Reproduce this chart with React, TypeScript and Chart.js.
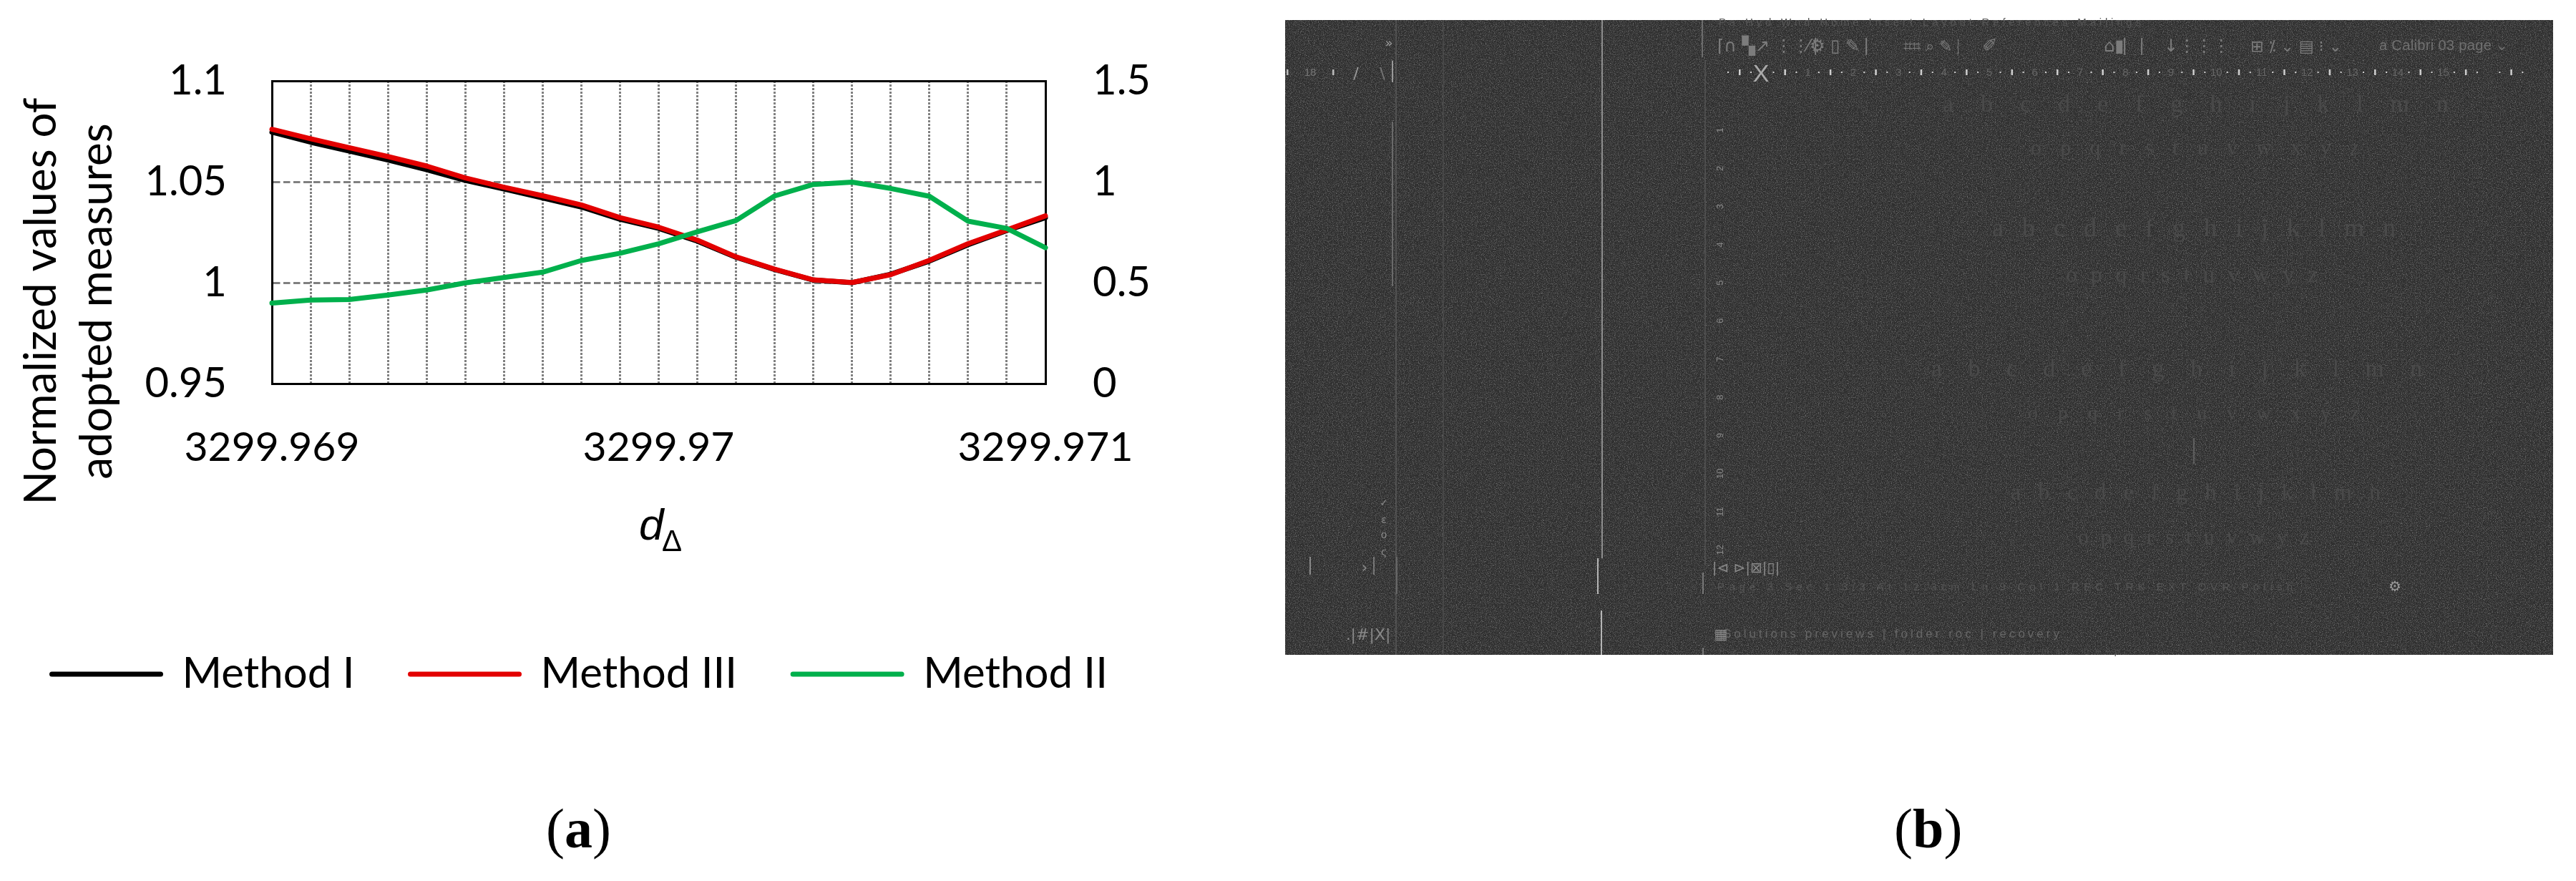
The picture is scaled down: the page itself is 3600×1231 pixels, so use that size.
import React, { useEffect, useRef } from "react";
import { Chart, registerables } from "chart.js";

Chart.register(...registerables);

const categories = [
  "3299.969", "3299.9691", "3299.9692", "3299.9693", "3299.9694", "3299.9695", "3299.9696",
  "3299.9697", "3299.9698", "3299.9699", "3299.97", "3299.9701", "3299.9702", "3299.9703",
  "3299.9704", "3299.9705", "3299.9706", "3299.9707", "3299.9708", "3299.9709", "3299.971",
];
const methodI = [
  1.0746, 1.0696, 1.0652, 1.0608, 1.056, 1.0507, 1.0464, 1.042, 1.0375, 1.0314, 1.0269,
  1.0206, 1.0126, 1.0065, 1.0013, 1.0, 1.0042, 1.0107, 1.0188, 1.0258, 1.0322,
];
const methodIII = [
  1.076, 1.0713, 1.0669, 1.0625, 1.0578, 1.0519, 1.0473, 1.0431, 1.0385, 1.0322, 1.0275,
  1.0211, 1.0128, 1.0067, 1.0014, 1.0001, 1.004, 1.0111, 1.0193, 1.0261, 1.0331,
];
const methodII = [
  0.3988, 0.414, 0.4165, 0.439, 0.4635, 0.499, 0.526, 0.552, 0.61, 0.646, 0.693,
  0.752, 0.808, 0.93, 0.987, 0.998, 0.967, 0.928, 0.805, 0.769, 0.673,
];
const yTitleLines = ["Normalized values of", "adopted measures"];
const letterRows = [
  { text: "a b c d e f g h i j k l m n", x: 2715, y: 156, w: 707, fs: 34 },
  { text: "o p q r s t u v w x y z", x: 2838, y: 216, w: 459, fs: 30 },
  { text: "a b c d e f g h i j k l m n", x: 2784, y: 330, w: 564, fs: 36 },
  { text: "o p q r s t u v w y z", x: 2887, y: 394, w: 352, fs: 32 },
  { text: "a b c d e f g h i j k l m n", x: 2699, y: 526, w: 686, fs: 34 },
  { text: "o p q r s t u v w x y z", x: 2834, y: 586, w: 463, fs: 28 },
  { text: "a b c d e f g h i j k l m n", x: 2810, y: 698, w: 517, fs: 32 },
  { text: "o p q r s t u v w y z", x: 2904, y: 760, w: 323, fs: 30 },
];
const panelLines = [
  { x: 1951, y1: 28, y2: 915, c: "#5a5a5a", w: 1.5 },
  { x: 1946, y1: 85, y2: 115, c: "#999", w: 2 },
  { x: 1946, y1: 170, y2: 400, c: "#6a6a6a", w: 2 },
  { x: 2017, y1: 28, y2: 915, c: "#4c4c4c", w: 1.5 },
  { x: 2239, y1: 28, y2: 780, c: "#8e8e8e", w: 2 },
  { x: 2233, y1: 780, y2: 830, c: "#b5b5b5", w: 2 },
  { x: 2238, y1: 853, y2: 915, c: "#b5b5b5", w: 2 },
  { x: 2379, y1: 28, y2: 80, c: "#6c6c6c", w: 2 },
  { x: 2383, y1: 85, y2: 790, c: "#555", w: 1.5 },
  { x: 2380, y1: 800, y2: 830, c: "#777", w: 2 },
  { x: 2380, y1: 905, y2: 915, c: "#777", w: 2 },
  { x: 3066, y1: 612, y2: 648, c: "#5f5f5f", w: 2 },
  { x: 1831, y1: 778, y2: 803, c: "#888", w: 2 },
  { x: 1920, y1: 778, y2: 803, c: "#777", w: 2 },
  { x: 1952, y1: 778, y2: 830, c: "#666", w: 2 },
];
const faintTexts = [
  { t: "Pa  Hyd  Wnd  Home  Insert  Layout  References  Mailings", x: 2402, y: 36, c: "#555", fs: 15, w: 590 },
  { t: "a Calibri 03 page ⌄", x: 3325, y: 70, c: "#707070", fs: 20, w: 180 },
  { t: "Page 3   Sec 1   3/3   At 12.3cm   Ln 9   Col 1   REC TRK EXT OVR   Polish", x: 2400, y: 825, c: "#555", fs: 15, w: 804 },
  { t: "Solutions previews | folder roc | recovery", x: 2408, y: 891, c: "#666", fs: 17, w: 470 },
  { t: "Pa / maths rules  tables  view  format  help", x: 2402, y: 914, c: "#4a4a4a", fs: 13, w: 560 },
];
const toolbarGlyphs = [
  { t: "⌈∩ ▚↗ ⋮⋮ ⎸", x: 2400, fs: 24 },
  { t: "⁄⚙ ▯ ✎ ⎸", x: 2525, fs: 24 },
  { t: "⌗⌗ ⌕ ✎ ⎸", x: 2660, fs: 22 },
  { t: "✐ ", x: 2770, fs: 26 },
  { t: "⌂▮⎸⎸ ↓⋮⋮⋮", x: 2940, fs: 24 },
  { t: "⊞ ⁒ ⌄ ▤ ⁝ ⌄", x: 3145, fs: 22 },
];

const isNear = (a: number, b: number) => Math.abs(a - b) < 1e-6;
const GREY = "#808080";
const FONT = "Lato";

const labelPlugin = {
  id: "panelLabels",
  afterDraw(chart: any) {
    const { ctx } = chart;
    ctx.save();
    ctx.fillStyle = "#000";
    ctx.textBaseline = "alphabetic";
    ctx.textAlign = "center";
    ctx.font = `62px ${FONT}`;
    yTitleLines.forEach((line, i) => {
      ctx.save();
      ctx.translate(78 + i * 78, 421);
      ctx.rotate(-Math.PI / 2);
      ctx.fillText(line, 0, 0);
      ctx.restore();
    });
    ctx.textAlign = "left";
    ctx.font = `italic 62px "Liberation Sans"`;
    ctx.fillText("d", 893, 754);
    ctx.font = `42px "Liberation Sans"`;
    ctx.fillText("Δ", 925, 770);
    ctx.font = `78px "Liberation Serif"`;
    ctx.fillText("(", 763, 1184);
    ctx.font = `bold 78px "Liberation Serif"`;
    ctx.fillText("a", 789, 1184);
    ctx.font = `78px "Liberation Serif"`;
    ctx.fillText(")", 828, 1184);
    ctx.restore();
  },
};

export default function App() {
  const ref = useRef<HTMLCanvasElement | null>(null);

  useEffect(() => {
    const line = (label: string, data: number[], color: string, yAxisID: string, order: number) => ({
      label,
      data,
      yAxisID,
      order,
      borderColor: color,
      backgroundColor: color,
      borderWidth: 7,
      pointRadius: 0,
      tension: 0,
      clip: false as const,
      borderCapStyle: "round" as const,
      borderJoinStyle: "round" as const,
      pointStyle: "line",
    });
    const chart = new Chart(ref.current as HTMLCanvasElement, {
      type: "line",
      data: {
        labels: categories,
        datasets: [
          line("Method I", methodI, "#000000", "y", 2),
          line("Method III", methodIII, "#E30000", "y", 1),
          line("Method II", methodII, "#00B04C", "y1", 0),
        ],
      },
      options: {
        animation: false,
        responsive: false,
        devicePixelRatio: 1,
        layout: { autoPadding: false, padding: { left: -5.5, right: 0, top: 113, bottom: 249 } },
        plugins: {
          title: { display: false },
          tooltip: { enabled: false },
          legend: {
            display: true,
            position: "bottom",
            align: "start",
            labels: {
              usePointStyle: true,
              pointStyleWidth: 152,
              padding: 78,
              color: "#000",
              font: { family: FONT, size: 60 },
              generateLabels: (c: any) =>
                c.data.datasets.map((d: any, i: number) => ({
                  text: d.label,
                  fillStyle: d.borderColor,
                  strokeStyle: d.borderColor,
                  lineWidth: 7,
                  lineCap: "round",
                  pointStyle: "line",
                  datasetIndex: i,
                })),
            },
          },
        },
        scales: {
          x: {
            type: "category",
            afterFit: (s: any) => { s.height = 298; },
            border: { color: "#000", width: 3, dash: [3, 2] },
            grid: {
              drawTicks: false,
              lineWidth: 3,
              color: (c: any) => (c.index === 0 || c.index === categories.length - 1 ? "transparent" : GREY),
            },
            ticks: {
              autoSkip: false,
              maxRotation: 0,
              minRotation: 0,
              padding: 55,
              color: "#000",
              font: { family: FONT, size: 57 },
              callback: (_v: any, i: number) => (i % 10 === 0 ? categories[i] : ""),
            },
          },
          y: {
            position: "left",
            min: 0.95,
            max: 1.1,
            afterFit: (s: any) => { s.width = 385.5; },
            border: {
              color: "#000",
              width: 3,
              dash: (c: any) => (c.tick && isNear(c.tick.value, 1.1) ? [] : [9.5, 4.5]),
            },
            grid: {
              drawTicks: false,
              lineWidth: 3,
              color: (c: any) => {
                const v = c.tick ? c.tick.value : 0;
                if (isNear(v, 1.1)) return "#000";
                return isNear(v, 0.95) ? "transparent" : GREY;
              },
            },
            ticks: {
              stepSize: 0.05,
              padding: 63,
              color: "#000",
              font: { family: FONT, size: 58 },
              callback: (v: any) => String(Number(Number(v).toFixed(2))),
            },
          },
          y1: {
            position: "right",
            min: 0,
            max: 1.5,
            afterFit: (s: any) => { s.width = 319; },
            border: { color: "#000", width: 3 },
            grid: { drawOnChartArea: false, drawTicks: false },
            ticks: {
              stepSize: 0.5,
              padding: 66,
              color: "#000",
              font: { family: FONT, size: 58 },
              callback: (v: any) => String(Number(Number(v).toFixed(2))),
            },
          },
        },
      },
      plugins: [labelPlugin],
    } as any);
    return () => chart.destroy();
  }, []);

  const rulerBars = Array.from({ length: 18 }, (_, k) => 2431 + k * 63.43);
  const sideNumbers = Array.from({ length: 12 }, (_, k) => k + 1);

  return (
    <div style={{ position: "absolute", left: 0, top: 0, width: 3600, height: 1231, background: "#fff", overflow: "hidden" }}>
      <canvas ref={ref} width={1780} height={1231} style={{ position: "absolute", left: 0, top: 0 }} />
      <svg width={3600} height={1231} style={{ position: "absolute", left: 0, top: 0, pointerEvents: "none" }}>
        <defs>
          <filter id="speckle" x="0" y="0" width="100%" height="100%">
            <feTurbulence type="fractalNoise" baseFrequency="0.85" numOctaves={2} seed={4} />
            <feColorMatrix values="0 0 0 0 1  0 0 0 0 1  0 0 0 0 1  0.8 0 0 0 -0.36" />
          </filter>
        </defs>
        <rect x={1796} y={28} width={1772} height={887} fill="#2e2e2e" />
        <rect x={1796} y={28} width={1772} height={887} filter="url(#speckle)" />
        {panelLines.map((l, i) => (
          <line key={i} x1={l.x} x2={l.x} y1={l.y1} y2={l.y2} stroke={l.c} strokeWidth={l.w} />
        ))}
        {letterRows.map((r, i) => (
          <text key={i} x={r.x} y={r.y} textLength={r.w} lengthAdjust="spacing" fontFamily="Liberation Serif" fontSize={r.fs} fill="#4a4a4a">
            {r.text}
          </text>
        ))}
        {faintTexts.map((r, i) => (
          <text key={i} x={r.x} y={r.y} textLength={r.w} lengthAdjust="spacing" fontFamily="Liberation Sans" fontSize={r.fs} fill={r.c}>
            {r.t}
          </text>
        ))}
        {toolbarGlyphs.map((r, i) => (
          <text key={i} x={r.x} y={72} fontFamily="DejaVu Sans" fontSize={r.fs} fill="#7c7c7c">
            {r.t}
          </text>
        ))}
        {rulerBars.map((x, k) => (
          <g key={k}>
            <rect x={x - 1} y={97} width={2.5} height={8} fill="#cfcfcf" />
            <rect x={x + 15} y={100} width={2} height={2} fill="#cfcfcf" />
            <rect x={x - 17} y={100} width={2} height={2} fill="#cfcfcf" />
          </g>
        ))}
        {rulerBars.slice(1, 16).map((x, k) => (
          <text key={k} x={x + 32} y={106} textAnchor="middle" fontFamily="Liberation Sans" fontSize={15} fill="#666">
            {k + 1}
          </text>
        ))}
        <text x={2461} y={114} textAnchor="middle" fontFamily="Liberation Sans" fontSize={34} fill="#aaa">X</text>
        <rect x={1798} y={97} width={2.5} height={8} fill="#bbb" />
        <rect x={1862} y={97} width={2.5} height={8} fill="#bbb" />
        <text x={1831} y={106} textAnchor="middle" fontFamily="Liberation Sans" fontSize={15} fill="#777">18</text>
        <text x={1895} y={110} textAnchor="middle" fontFamily="DejaVu Sans" fontSize={22} fill="#999">/</text>
        <text x={1932} y={110} textAnchor="middle" fontFamily="DejaVu Sans" fontSize={22} fill="#777">\</text>
        <text x={1941} y={66} textAnchor="middle" fontFamily="DejaVu Sans" fontSize={18} fill="#999">»</text>
        {sideNumbers.map((n) => (
          <text key={n} transform={`translate(2408 ${182 + (n - 1) * 53.3}) rotate(-90)`} textAnchor="middle" fontFamily="Liberation Sans" fontSize={13} fill="#888">
            {n}
          </text>
        ))}
        {["✓", "ε", "o", "ς"].map((t, i) => (
          <text key={t} x={1934} y={[707, 731, 752, 776][i]} textAnchor="middle" fontFamily="DejaVu Sans" fontSize={14} fill="#888">{t}</text>
        ))}
        <text x={1907} y={800} textAnchor="middle" fontFamily="DejaVu Sans" fontSize={22} fill="#888">›</text>
        <text x={1912} y={894} textAnchor="middle" fontFamily="DejaVu Sans" fontSize={22} fill="#888">.|#|X|</text>
        <text x={2440} y={800} textAnchor="middle" fontFamily="DejaVu Sans" fontSize={20} fill="#888">|⊲ ⊳|⊠|▯|</text>
        <text x={2405} y={893} textAnchor="middle" fontFamily="DejaVu Sans" fontSize={20} fill="#888">▦</text>
        <text x={3347} y={826} textAnchor="middle" fontFamily="DejaVu Sans" fontSize={20} fill="#9a9a9a">⚙</text>
        <text x={2647} y={1184} fontFamily="Liberation Serif" fontSize={78} fill="#000">(<tspan fontWeight="bold">b</tspan>)</text>
      </svg>
    </div>
  );
}
